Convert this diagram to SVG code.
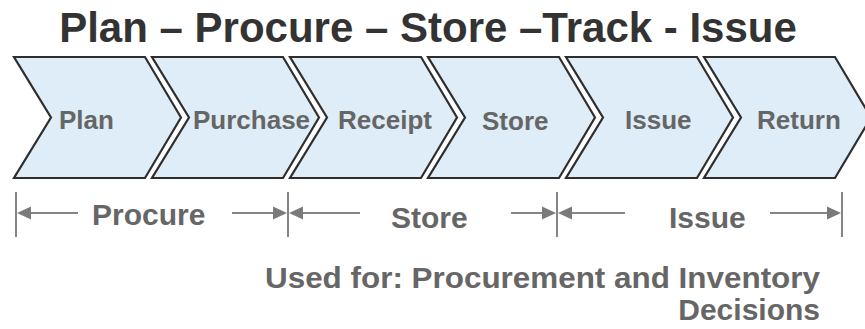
<svg xmlns="http://www.w3.org/2000/svg" width="865" height="329" viewBox="0 0 865 329">
  <style>
    .title { font-family: "Liberation Sans", Arial, sans-serif; font-weight: bold; font-size: 42px; fill: #333333; }
    .chev { fill: #deedf8; stroke: #2e2e2e; stroke-width: 2.2; stroke-linejoin: miter; }
    .lbl { font-family: "Liberation Sans", Arial, sans-serif; font-weight: bold; font-size: 26px; fill: #666666; }
    .phase { font-family: "Liberation Sans", Arial, sans-serif; font-weight: bold; font-size: 30px; fill: #666666; }
    .note { font-family: "Liberation Sans", Arial, sans-serif; font-weight: bold; font-size: 30px; fill: #666666; text-anchor: end; }
    .tick { stroke: #858585; stroke-width: 2; }
    .shaft { stroke: #858585; stroke-width: 2; fill: none; }
    .head { fill: #7a7a7a; stroke: none; }
  </style>
  <defs>
    <!-- chevron outline: left edge at 0, notch 37, top-right 131, point 167 -->
    <path id="chevron" d="M0,57 L131,57 L167,117.5 L131,178 L0,178 L37,117.5 Z"/>
    <!-- arrowhead pointing right, tip at origin -->
    <path id="tipR" d="M0,0 L-14,-6.5 L-14,6.5 Z"/>
    <!-- arrowhead pointing left, tip at origin -->
    <path id="tipL" d="M0,0 L14,-6.5 L14,6.5 Z"/>
  </defs>

  <text class="title" x="428" y="42" text-anchor="middle">Plan – Procure – Store –Track - Issue</text>

  <g id="step-plan">
    <use href="#chevron" class="chev" x="14"/>
    <text class="lbl" x="59" y="129">Plan</text>
  </g>
  <g id="step-purchase">
    <use href="#chevron" class="chev" x="152"/>
    <text class="lbl" x="193" y="129">Purchase</text>
  </g>
  <g id="step-receipt">
    <use href="#chevron" class="chev" x="290"/>
    <text class="lbl" x="338" y="129">Receipt</text>
  </g>
  <g id="step-store">
    <use href="#chevron" class="chev" x="428"/>
    <text class="lbl" x="482" y="130">Store</text>
  </g>
  <g id="step-issue">
    <use href="#chevron" class="chev" x="566"/>
    <text class="lbl" x="625" y="129">Issue</text>
  </g>
  <g id="step-return">
    <use href="#chevron" class="chev" x="704"/>
    <text class="lbl" x="757" y="129">Return</text>
  </g>

  <g id="connectors">
    <line class="tick" x1="16" y1="192" x2="16" y2="237"/>
    <line class="tick" x1="288" y1="192" x2="288" y2="237"/>
    <line class="tick" x1="557" y1="192" x2="557" y2="237"/>
    <line class="tick" x1="842" y1="192" x2="842" y2="237"/>

    <line class="shaft" x1="78" y1="213" x2="28" y2="213"/>
    <path class="head" d="M17,213 L31,206.5 L31,219.5 Z"/>

    <line class="shaft" x1="232" y1="213" x2="276" y2="213"/>
    <path class="head" d="M287,213 L273,206.5 L273,219.5 Z"/>

    <line class="shaft" x1="360" y1="213" x2="300" y2="213"/>
    <path class="head" d="M289,213 L303,206.5 L303,219.5 Z"/>

    <line class="shaft" x1="511" y1="213" x2="545" y2="213"/>
    <path class="head" d="M556,213 L542,206.5 L542,219.5 Z"/>

    <line class="shaft" x1="625" y1="213" x2="569" y2="213"/>
    <path class="head" d="M558,213 L572,206.5 L572,219.5 Z"/>

    <line class="shaft" x1="770" y1="213" x2="830" y2="213"/>
    <path class="head" d="M841,213 L827,206.5 L827,219.5 Z"/>
  </g>

  <g id="phase-labels">
    <text class="phase" x="92" y="225">Procure</text>
    <text class="phase" x="391" y="228">Store</text>
    <text class="phase" x="669" y="228">Issue</text>
  </g>

  <g id="usage-note">
    <text class="note" x="820" y="288" textLength="555" lengthAdjust="spacingAndGlyphs">Used for: Procurement and Inventory</text>
    <text class="note" x="820" y="320">Decisions</text>
  </g>
</svg>
